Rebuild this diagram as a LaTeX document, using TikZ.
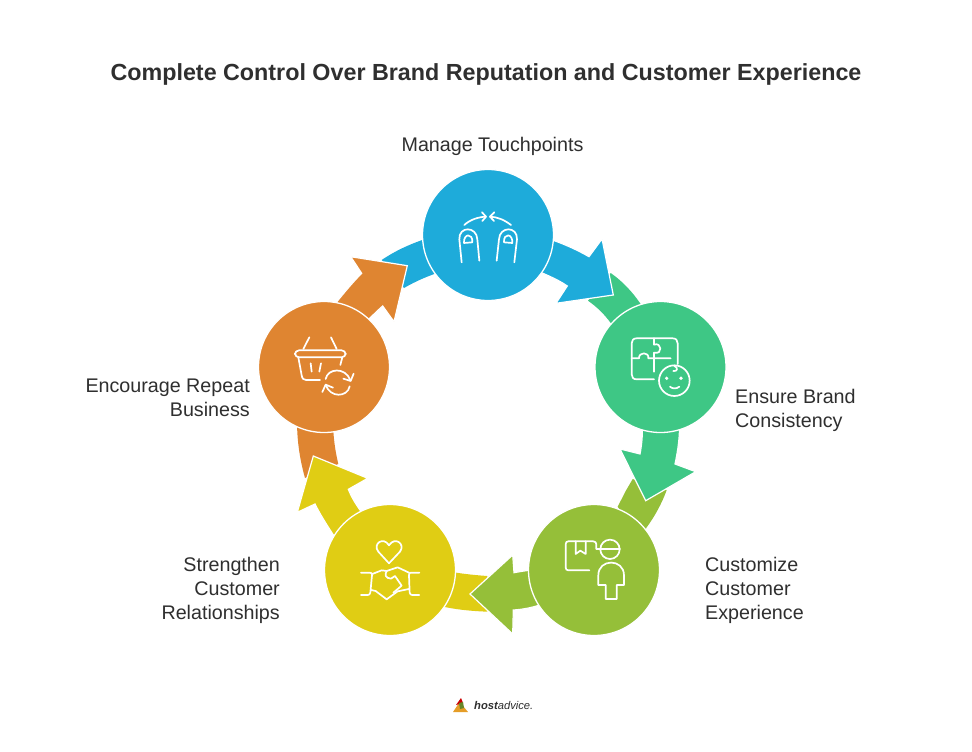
\documentclass[tikz,border=0pt]{standalone}
\usepackage{fontspec}
\setmainfont{Liberation Sans}
\definecolor{cblue}{HTML}{1EABDA}
\definecolor{cgreen}{HTML}{3EC785}
\definecolor{colive}{HTML}{95BF39}
\definecolor{cyellow}{HTML}{E0CD14}
\definecolor{corange}{HTML}{DF8531}
\definecolor{ctext}{HTML}{2F2F2F}
\tikzset{
  disc/.style={circle,draw=white,line width=1.3pt,minimum size=131pt,inner sep=0pt,fill=#1},
  tailpart/.style={fill=#1,draw=none},
  headpart/.style={fill=#1,draw=white,line width=1.2pt,line join=miter},
  lbl/.style={text=ctext,inner sep=0pt,font=\fontsize{19.7}{24}\selectfont},
  icon/.style={draw=white,line width=1.7pt,line cap=round,line join=round,fill=none},
}
\begin{document}
\begin{tikzpicture}[x=1pt,y=-1pt]
\useasboundingbox (0,0) rectangle (972,752);
\fill[white] (0,0) rectangle (972,752);

\node[text=ctext,inner sep=0pt,font=\fontsize{23.3}{28}\selectfont\bfseries] (title) at (486,74.5) {Complete Control Over Brand Reputation and Customer Experience};

% tails
\fill[tailpart=cblue] (381.7,260) .. controls (395,251) and (408,245) .. (425,239) -- (440,272) .. controls (428,276) and (416,281) .. (404,288) -- cycle;
\fill[tailpart=cgreen] (610.7,273) .. controls (622,281) and (632,291) .. (642,306) -- (625,340) -- (610,322) .. controls (604,314) and (597,307) .. (588,300.7) -- cycle;
\fill[tailpart=colive] (632.7,479) -- (625.7,491) -- (617.7,506.7) -- (640,540) -- (646.7,527.3) .. controls (655,516) and (662,503) .. (666.7,490) -- cycle;
\fill[tailpart=cyellow] (440,570) .. controls (456,573) and (472,575) .. (487.3,576) -- (487.3,611.7) .. controls (472,611) and (458,610) .. (440,606) -- cycle;
\fill[tailpart=corange] (297,420) -- (333,420) .. controls (333,436) and (335,450) .. (338.3,464) -- (305,478) .. controls (300,460) and (297,442) .. (297,420) -- cycle;

% arrows with heads
\filldraw[headpart=cblue] (540,236) .. controls (557,241) and (574,248) .. (589,256.7) -- (602,239) -- (613.3,295) -- (556,303.3) -- (567.3,286) .. controls (560,281) and (552,277) .. (535,270) -- cycle;
\filldraw[headpart=cgreen] (642,420) -- (679.5,420) .. controls (680,436) and (678,450) .. (675,464) -- (695.7,471.7) -- (645.7,500.7) -- (620,449) -- (640,454) .. controls (642,444) and (643,432) .. (642,420) -- cycle;
\filldraw[headpart=colive] (540,569) .. controls (531,570) and (523,571) .. (514,572.7) -- (512.7,555) -- (470,594) -- (512.7,634) -- (513.3,610) .. controls (522,609.5) and (530,608) .. (540,605) -- cycle;
\filldraw[headpart=cyellow] (372,530) -- (360,510) .. controls (355,503) and (351,496) .. (348.3,489.3) -- (367.7,478.3) -- (313.3,456) -- (297.3,512.3) -- (315,504) .. controls (320,514) and (326,524) .. (340,545) -- cycle;
\filldraw[headpart=corange] (330,310) .. controls (340,298) and (350,285) .. (361.7,273.3) -- (350.7,256.7) -- (407.3,265.7) -- (394,321.7) -- (382.7,306) .. controls (377,311) and (371,317) .. (362,326) -- cycle;

% discs
\node[disc=cblue] (touch) at (488,235) {};
\node[disc=cgreen] (brand) at (660.5,367) {};
\node[disc=colive] (custom) at (594,570) {};
\node[disc=cyellow] (relate) at (390,570) {};
\node[disc=corange] (repeat) at (324,367) {};

% labels
\node[lbl] (l1) at (492.5,146) {Manage Touchpoints};
\node[lbl,align=left,anchor=west] (l2) at (735,410) {Ensure Brand\\Consistency};
\node[lbl,align=left,anchor=west] (l3) at (705,590) {Customize\\Customer\\Experience};
\node[lbl,align=right,anchor=east] (l4) at (280,590) {Strengthen\\Customer\\Relationships};
\node[lbl,align=right,anchor=east] (l5) at (250,398) {Encourage Repeat\\Business};

% touch icon
\begin{scope}[shift={(400,160)},x=.3333pt,y=-.3333pt]
\draw[icon] (185,307) -- (178,238) .. controls (176,198) and (230,198) .. (232,238) -- (238,302);
\draw[icon] (192,249) -- (217,247) .. controls (219,218) and (190,220) .. (192,249) -- cycle;
\draw[icon] (290,302) -- (297,238) .. controls (299,198) and (353,198) .. (351,238) -- (343,307);
\draw[icon] (312,247) -- (337,249) .. controls (339,220) and (310,218) .. (312,247) -- cycle;
\draw[icon] (193,195) .. controls (210,179) and (235,171) .. (258,170);
\draw[icon] (246,157) -- (258,170) -- (247,183);
\draw[icon] (333,195) .. controls (312,179) and (292,171) .. (270,170);
\draw[icon] (283,157) -- (270,170) -- (282,183);
\end{scope}

% puzzle and face icon
\begin{scope}[shift={(580,290)},x=.3333pt,y=-.3333pt]
\draw[icon] (222,268) -- (170,268) .. controls (160,268) and (155,262) .. (155,253) -- (155,160) .. controls (155,151) and (160,145) .. (170,145) -- (278,145) .. controls (288,145) and (293,151) .. (293,160) -- (293,222);
\draw[icon] (222,145) -- (222,164) .. controls (245,155) and (250,195) .. (222,188) -- (222,245);
\draw[icon] (155,205) -- (177,205) .. controls (176,185) and (208,185) .. (205,205) -- (272,205);
\draw[icon] (283,272) circle[radius=46];
\fill[white] (260,265) circle[radius=5.5] (303,265) circle[radius=5.5];
\draw[icon] (270,290) .. controls (277,297) and (290,297) .. (298,290);
\draw[icon] (283,228) .. controls (296,232) and (292,246) .. (280,243);
\end{scope}

% parcel and courier icon
\begin{scope}[shift={(460,490)},x=.3333pt,y=-.3333pt]
\draw[icon] (388,241) -- (325,241) .. controls (320,241) and (317,238) .. (317,232) -- (317,163) .. controls (317,157) and (320,154) .. (325,154) -- (400,154) .. controls (406,154) and (409,158) .. (409,163) -- (409,177) -- (480,177);
\draw[icon] (347,154) -- (347,192) -- (361,182) -- (377,192) -- (377,154);
\draw[icon] (450,178) circle[radius=29];
\draw[icon] (437,327) -- (437,285) -- (415,285) -- (415,256) .. controls (415,205) and (492,205) .. (492,256) -- (492,285) -- (470,285) -- (470,327) -- cycle;
\end{scope}

% handshake icon
\begin{scope}[shift={(285,440)},x=.3333pt,y=-.3333pt]
\draw[icon] (312,370) -- (280,335) .. controls (262,312) and (295,288) .. (312,316) .. controls (330,288) and (362,312) .. (345,335) -- cycle;
\draw[icon] (228,398) -- (254,398) .. controls (260,398) and (262,400) .. (261,406) -- (256,458) .. controls (255,463) and (252,465) .. (248,465) -- (228,465);
\draw[icon] (403,398) -- (378,398) .. controls (373,398) and (372,400) .. (372,406) -- (374,458) .. controls (375,463) and (378,465) .. (382,465) -- (403,465);
\draw[icon] (262,402) -- (290,391) -- (305,393) -- (338,382) -- (372,398);
\draw[icon] (258,450) -- (272,453) -- (305,478) -- (338,454) -- (372,447);
\draw[icon] (305,393) .. controls (298,405) and (302,415) .. (318,416) -- (330,408) -- (350,437) -- (325,458);
\end{scope}

% basket icon
\begin{scope}[shift={(250,230)},x=.3333pt,y=-.3333pt]
\draw[icon] (160,357) -- (178,322);
\draw[icon] (260,357) -- (243,322);
\draw[icon,rounded corners=4pt] (135,361) rectangle (287,382);
\draw[icon] (145,382) -- (155,436) .. controls (157,446) and (160,450) .. (168,450) -- (210,450);
\draw[icon] (277,382) -- (271,405);
\draw[icon] (182,400) -- (185,425);
\draw[icon] (213,400) -- (208,425);
\draw[icon] (227,447) .. controls (233,415) and (285,410) .. (301,450);
\draw[icon] (311,431) -- (302,453) -- (280,446);
\draw[icon] (299,469) .. controls (293,502) and (240,505) .. (227,464);
\draw[icon] (217,486) -- (227,464) -- (249,473);
\end{scope}

% footer logo
\fill[corange!80!yellow] (453,712) -- (459,703) -- (463,706) -- (468,712) -- cycle;
\fill[red!80!black] (456,705) -- (461,698) -- (463,703) -- cycle;
\fill[colive!70!black] (459,703) -- (463,702) -- (464,708) -- (460,709) -- cycle;
\node[text=ctext,anchor=west,inner sep=0pt,font=\fontsize{11.2}{12}\selectfont\itshape] (logo) at (474,705.5) {\textbf{host}advice.};
\end{tikzpicture}
\end{document}
